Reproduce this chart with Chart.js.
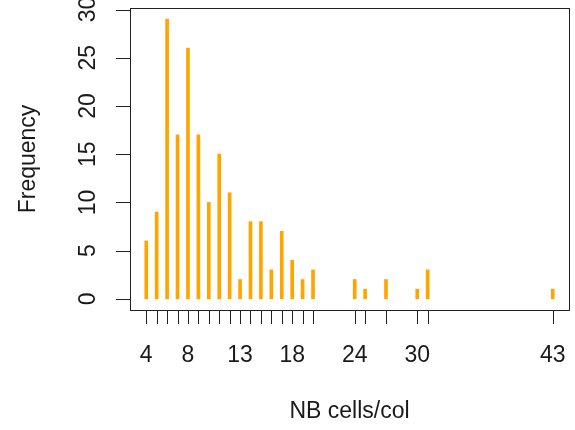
<!DOCTYPE html>
<html>
<head>
<meta charset="utf-8">
<script src="https://cdn.jsdelivr.net/npm/chart.js@4.4.0/dist/chart.umd.min.js"></script>
<style>
  body { margin: 0; background: #fff; }
</style>
</head>
<body>
<canvas id="nb_cells_hist" width="575" height="430"></canvas>
<script>
// data
const cellCounts  = [4, 5, 6, 7, 8, 9, 10, 11, 12, 13, 14, 15, 16, 17, 18, 19, 20, 24, 25, 27, 30, 31, 43];
const frequencies = [6, 9, 29, 17, 26, 17, 10, 15, 11, 2, 8, 8, 3, 7, 4, 2, 3, 2, 1, 2, 1, 3, 1];
const xTickLabels = [4, 8, 13, 18, 24, 30, 43];
const yTickLabels = [0, 5, 10, 15, 20, 25, 30];
const xTitle = 'NB cells/col';
const yTitle = 'Frequency';

const FONT = '23px "Liberation Sans", Arial, sans-serif';

// R style axes, drawn with the chart scales
const rAxes = {
  id: 'rAxes',
  afterDraw(chart) {
    const ctx = chart.ctx;
    const a = chart.chartArea;
    const xs = chart.scales.x, ys = chart.scales.y;
    ctx.save();
    ctx.strokeStyle = '#222';
    ctx.lineWidth = 1;
    ctx.strokeRect(Math.round(a.left) + 0.5, Math.round(a.top) + 0.5,
                   Math.round(a.right - a.left), Math.round(a.bottom - a.top));

    ctx.fillStyle = '#1a1a1a';
    ctx.font = FONT;

    // x ticks: one per observed value, labels only for some
    ctx.beginPath();
    cellCounts.forEach(function (v) {
      const px = Math.round(xs.getPixelForValue(v)) + 0.5;
      ctx.moveTo(px, a.bottom);
      ctx.lineTo(px, a.bottom + 14);
    });
    ctx.stroke();
    ctx.textAlign = 'center';
    ctx.textBaseline = 'alphabetic';
    xTickLabels.forEach(function (v) {
      ctx.fillText(String(v), xs.getPixelForValue(v), 362);
    });

    // y ticks, labels turned like R's las=0
    ctx.beginPath();
    yTickLabels.forEach(function (v) {
      const py = Math.round(ys.getPixelForValue(v)) + 0.5;
      ctx.moveTo(a.left, py);
      ctx.lineTo(a.left - 14, py);
    });
    ctx.stroke();
    yTickLabels.forEach(function (v) {
      ctx.save();
      ctx.translate(95, ys.getPixelForValue(v));
      ctx.rotate(-Math.PI / 2);
      ctx.fillText(String(v), 0, 0);
      ctx.restore();
    });

    // titles
    ctx.fillText(xTitle, (a.left + a.right) / 2, 418);
    ctx.save();
    ctx.translate(35, (a.top + a.bottom) / 2);
    ctx.rotate(-Math.PI / 2);
    ctx.fillText(yTitle, 0, 0);
    ctx.restore();
    ctx.restore();
  }
};

document.addEventListener('DOMContentLoaded', function () {
  const data = {
    datasets: [{
      data: cellCounts.map(function (c, i) { return { x: c, y: frequencies[i] }; }),
      backgroundColor: '#FFA500',
      borderWidth: 0,
      barThickness: 3
    }]
  };

  const options = {
    responsive: false,
    animation: false,
    layout: { padding: { left: 130, top: 8, right: 6, bottom: 120 } },
    plugins: { legend: { display: false }, tooltip: { enabled: false } },
    scales: {
      x: { type: 'linear', min: 2.44, max: 44.56, offset: false, display: false },
      y: { type: 'linear', min: -1.16, max: 30.16, display: false }
    }
  };

  const ctx = document.getElementById('nb_cells_hist').getContext('2d');
  new Chart(ctx, {
    type: 'bar',
    data: data,
    options: options,
    plugins: [rAxes]
  });
});
</script>
</body>
</html>
